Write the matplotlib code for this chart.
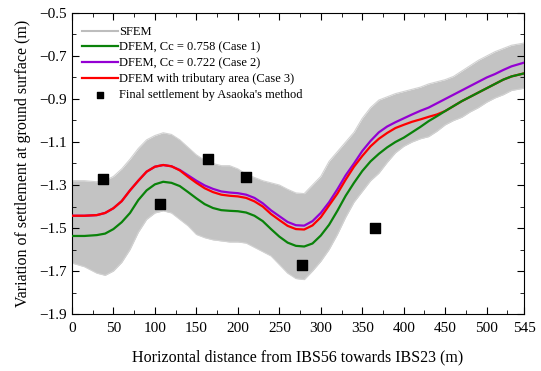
import matplotlib
matplotlib.use('Agg')
import matplotlib.pyplot as plt
from matplotlib.ticker import MultipleLocator

plt.rcParams['font.family'] = ['Liberation Serif', 'DejaVu Serif']

# values
x_knots = [0, 15, 30, 40, 50, 60, 70, 80, 90, 100, 110, 120, 130, 140, 150, 160, 170, 180, 190, 200,
           210, 220, 230, 240, 250, 260, 270, 280, 290, 300, 310, 320, 330, 340, 350, 360, 370, 380, 390, 400,
           410, 420, 430, 440, 450, 460, 470, 480, 490, 500, 510, 520, 530, 545]

case1 = [-1.537, -1.537, -1.533, -1.526, -1.505, -1.473, -1.43, -1.37, -1.325, -1.297, -1.285, -1.29, -1.305, -1.333, -1.362, -1.389, -1.407, -1.417, -1.42, -1.422,
         -1.428, -1.443, -1.468, -1.505, -1.54, -1.568, -1.583, -1.586, -1.572, -1.535, -1.485, -1.42, -1.35, -1.29, -1.235, -1.19, -1.155, -1.125, -1.10, -1.08,
         -1.055, -1.03, -1.003, -0.98, -0.956, -0.933, -0.91, -0.89, -0.87, -0.85, -0.83, -0.81, -0.795, -0.781]
case2 = [-1.443, -1.443, -1.44, -1.43, -1.408, -1.375, -1.325, -1.28, -1.238, -1.215, -1.207, -1.213, -1.23, -1.255, -1.28, -1.302, -1.318, -1.33, -1.335, -1.338,
         -1.345, -1.36, -1.385, -1.418, -1.445, -1.472, -1.487, -1.489, -1.468, -1.43, -1.38, -1.32, -1.255, -1.20, -1.142, -1.095, -1.055, -1.028, -1.008, -0.99,
         -0.972, -0.955, -0.94, -0.92, -0.90, -0.88, -0.86, -0.84, -0.82, -0.80, -0.784, -0.765, -0.748, -0.731]
case3 = [-1.443, -1.443, -1.44, -1.43, -1.408, -1.375, -1.325, -1.28, -1.238, -1.215, -1.207, -1.213, -1.232, -1.262, -1.29, -1.315, -1.333, -1.345, -1.35, -1.353,
         -1.36, -1.376, -1.40, -1.435, -1.463, -1.49, -1.505, -1.507, -1.488, -1.45, -1.395, -1.34, -1.275, -1.215, -1.165, -1.12, -1.085, -1.058, -1.035, -1.02,
         -1.006, -0.995, -0.983, -0.972, -0.956, -0.933, -0.91, -0.89, -0.87, -0.85, -0.83, -0.81, -0.795, -0.781]

sfem_hi = [-1.28, -1.28, -1.285, -1.28, -1.26, -1.225, -1.18, -1.13, -1.09, -1.07, -1.057, -1.065, -1.09, -1.125, -1.16, -1.185, -1.20, -1.21, -1.21, -1.225,
           -1.25, -1.265, -1.28, -1.29, -1.30, -1.32, -1.337, -1.34, -1.30, -1.26, -1.19, -1.145, -1.10, -1.055, -0.99, -0.94, -0.905, -0.89, -0.875, -0.865,
           -0.855, -0.845, -0.83, -0.82, -0.81, -0.795, -0.77, -0.745, -0.72, -0.70, -0.68, -0.665, -0.65, -0.64]
sfem_lo = [-1.663, -1.68, -1.71, -1.72, -1.70, -1.66, -1.60, -1.52, -1.46, -1.43, -1.42, -1.43, -1.46, -1.49, -1.53, -1.545, -1.555, -1.56, -1.565, -1.565,
           -1.57, -1.59, -1.61, -1.63, -1.67, -1.71, -1.735, -1.74, -1.70, -1.655, -1.60, -1.53, -1.45, -1.38, -1.33, -1.28, -1.245, -1.195, -1.15, -1.12,
           -1.10, -1.085, -1.075, -1.05, -1.02, -1.0, -0.985, -0.96, -0.94, -0.915, -0.895, -0.88, -0.86, -0.85]

asaoka_x = [37, 106, 164, 210, 277, 365]
asaoka_y = [-1.272, -1.389, -1.179, -1.264, -1.672, -1.50]

fig = plt.figure(figsize=(5.41, 3.71), dpi=100)
ax = fig.add_axes([0.133, 0.1536, 0.8356, 0.8114])

# SFEM realisations shown as a grey band
ax.fill_between(x_knots, sfem_lo, sfem_hi, color='#c3c3c3', lw=0, zorder=1)
ax.plot(x_knots, sfem_hi, color='#d2d2d2', lw=0.8, zorder=1)
ax.plot(x_knots, sfem_lo, color='#d2d2d2', lw=0.8, zorder=1)
ax.plot([], [], color='#bdbdbd', lw=1.5, label='SFEM')

ax.plot(x_knots, case1, color='#0a820a', lw=1.6, zorder=5, label='DFEM, Cc = 0.758 (Case 1)')
ax.plot(x_knots, case2, color='#9400d3', lw=1.6, zorder=3, label='DFEM, Cc = 0.722 (Case 2)')
ax.plot(x_knots, case3, color='#ff0000', lw=1.6, zorder=4, label='DFEM with tributary area (Case 3)')
ax.scatter(asaoka_x, asaoka_y, marker='s', s=42, color='black', zorder=6,
           label="Final settlement by Asaoka's method")

ax.set_xlim(0, 545)
ax.set_ylim(-1.9, -0.5)
ax.set_xticks([0, 50, 100, 150, 200, 250, 300, 350, 400, 450, 500, 545])
ax.xaxis.set_minor_locator(MultipleLocator(25))
ax.set_yticks([-1.9, -1.7, -1.5, -1.3, -1.1, -0.9, -0.7, -0.5])
ax.yaxis.set_minor_locator(MultipleLocator(0.1))
ax.tick_params(which='both', direction='in', top=True, right=True, labelsize=11)
ax.tick_params(which='major', length=5)
ax.tick_params(which='minor', length=3)
ax.tick_params(axis='x', pad=6)

ax.set_xlabel('Horizontal distance from IBS56 towards IBS23 (m)', fontsize=11.5, labelpad=10)
ax.set_ylabel('Variation of settlement at ground surface (m)', fontsize=11.5, labelpad=6)

ax.legend(loc='upper left', bbox_to_anchor=(0.0, 0.99), frameon=False, fontsize=9,
          handlelength=2.9, handletextpad=0.1, labelspacing=0.3, borderaxespad=0.4,
          scatterpoints=1, markerscale=0.7)

fig.savefig('out.png', dpi=100)
